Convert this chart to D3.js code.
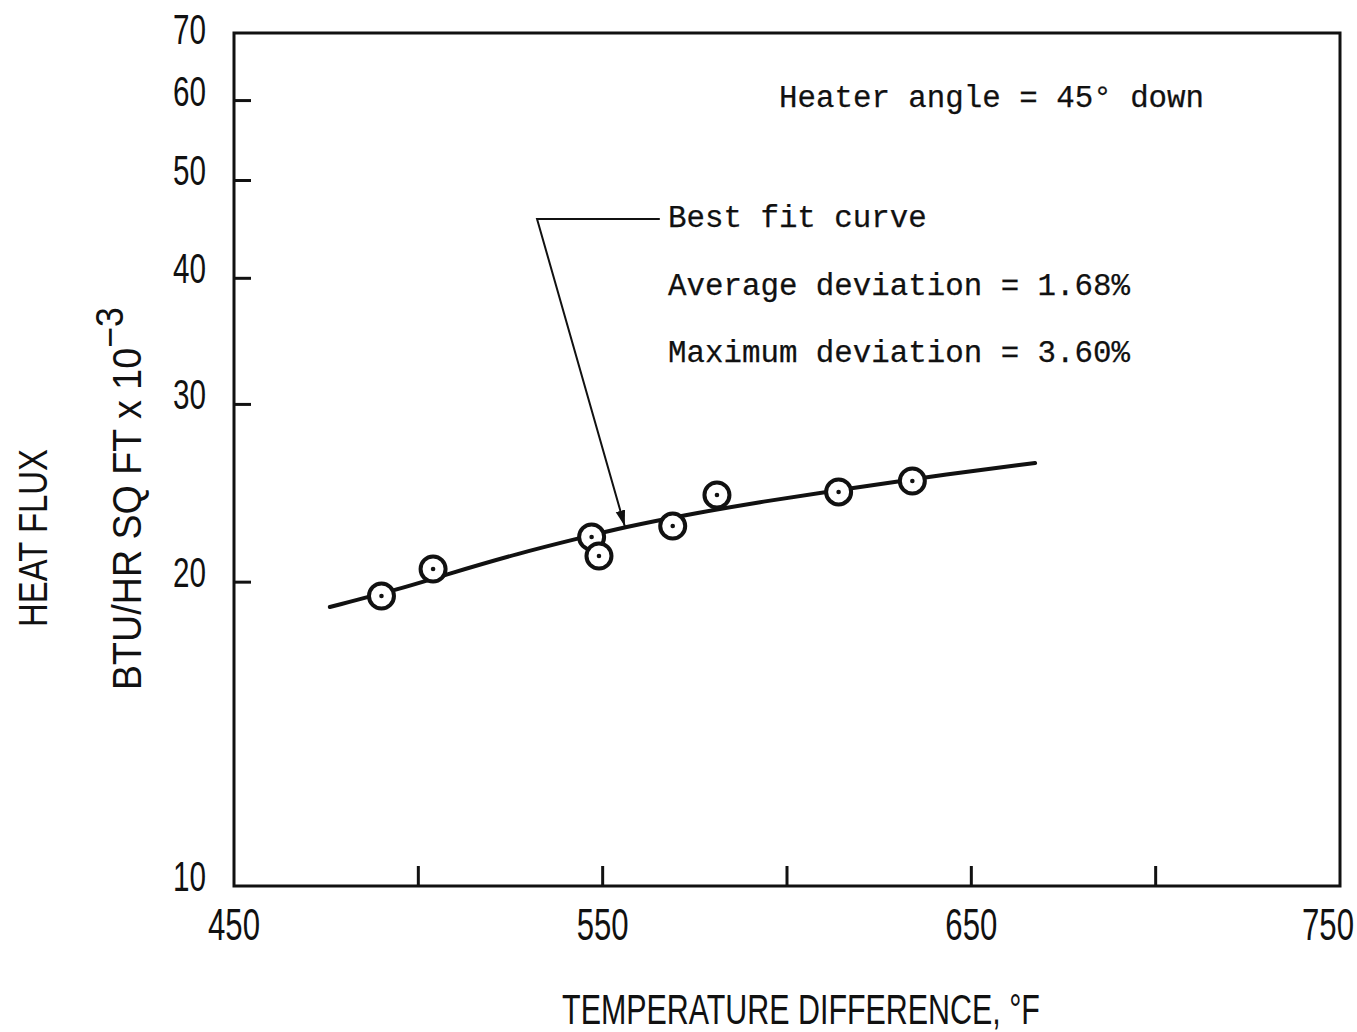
<!DOCTYPE html>
<html>
<head>
<meta charset="utf-8">
<script src="https://cdn.jsdelivr.net/npm/d3@7"></script>
<style>
  html, body { margin: 0; padding: 0; background: #fff; }
  svg { display: block; }
</style>
</head>
<body>
<div id="chart"></div>
<script>
// measured points (temperature difference °F, heat flux x 10^-3)
const pointTemp = [490, 504, 547, 549, 569, 581, 614, 634];
const pointFlux = [19.38, 20.61, 22.17, 21.23, 22.73, 24.40, 24.57, 25.19];

// best fit curve
const curveTemp = [476.0, 495.0, 507.2, 527.6, 543.9, 556.1, 571.0, 592.7, 614.4, 638.0, 667.3];
const curveFlux = [18.90, 19.69, 20.33, 21.38, 22.12, 22.68, 23.26, 24.02, 24.69, 25.43, 26.25];

const xTicks = [500, 550, 600, 650, 700];
const xTickLabels = [450, 550, 650, 750];
const yTicks = [20, 30, 40, 50, 60];
const yTickLabels = [10, 20, 30, 40, 50, 60, 70];

const notes = [
  "Heater angle = 45° down",
  "Best fit curve",
  "Average deviation = 1.68%",
  "Maximum deviation = 3.60%"
];

const width = 1357, height = 1032;
const plotLeft = 234, plotRight = 1340, plotTop = 33, plotBottom = 886;

const svg = d3.select("#chart").append("svg")
  .attr("width", width)
  .attr("height", height);

const x = d3.scaleLinear().domain([450, 750]).range([plotLeft, plotRight]);
const y = d3.scaleLog().domain([10, 70]).range([plotBottom, plotTop]);

const ink = "#111";
const letterFont = "'Liberation Sans Narrow', 'Liberation Sans', sans-serif";

// squeeze lettering to the width it has in the picture
function fit(sel, w) {
  sel.each(function () {
    const t = d3.select(this);
    const l = this.getComputedTextLength();
    t.attr("transform", t.attr("transform") + ` scale(${w / l},1)`);
  });
}

// frame
svg.append("rect")
  .attr("x", plotLeft).attr("y", plotTop)
  .attr("width", plotRight - plotLeft).attr("height", plotBottom - plotTop)
  .attr("fill", "none").attr("stroke", ink).attr("stroke-width", 3);

// inward ticks
svg.append("g").selectAll("line")
  .data(xTicks)
  .join("line")
  .attr("x1", d => x(d)).attr("x2", d => x(d))
  .attr("y1", plotBottom).attr("y2", plotBottom - 20)
  .attr("stroke", ink).attr("stroke-width", 3);

svg.append("g").selectAll("line")
  .data(yTicks)
  .join("line")
  .attr("x1", plotLeft).attr("x2", plotLeft + 17)
  .attr("y1", d => y(d)).attr("y2", d => y(d))
  .attr("stroke", ink).attr("stroke-width", 3);

// tick labels
svg.append("g").selectAll("text")
  .data(xTickLabels)
  .join("text")
  .attr("transform", d => `translate(${Math.min(x(d), width - 29)},940)`)
  .attr("text-anchor", "middle")
  .attr("font-family", letterFont)
  .attr("font-size", 44)
  .attr("fill", ink)
  .text(d => d)
  .call(fit, 52);

svg.append("g").selectAll("text")
  .data(yTickLabels)
  .join("text")
  .attr("transform", d => `translate(206,${Math.max(y(d) + 5, 44)})`)
  .attr("text-anchor", "end")
  .attr("font-family", letterFont)
  .attr("font-size", 43)
  .attr("fill", ink)
  .text(d => d)
  .call(fit, 33);

// axis titles
svg.append("text")
  .attr("transform", "translate(801,1024)")
  .attr("text-anchor", "middle")
  .attr("font-family", letterFont)
  .attr("font-size", 43)
  .attr("fill", ink)
  .text("TEMPERATURE DIFFERENCE, °F")
  .call(fit, 478);

svg.append("text")
  .attr("transform", "translate(47,538) rotate(-90)")
  .attr("text-anchor", "middle")
  .attr("font-family", letterFont)
  .attr("font-size", 40)
  .attr("fill", ink)
  .text("HEAT FLUX")
  .call(fit, 178);

const unit = svg.append("text")
  .attr("transform", "translate(141,690) rotate(-90)")
  .attr("text-anchor", "start")
  .attr("font-family", letterFont)
  .attr("font-size", 40)
  .attr("fill", ink);
unit.append("tspan").text("BTU/HR SQ FT x 10");
unit.append("tspan").attr("dy", -18).attr("font-size", 38).text("−3");
unit.call(fit, 383);

// best fit curve
const curve = curveTemp.map((t, i) => [t, curveFlux[i]]);
svg.append("path")
  .datum(curve)
  .attr("fill", "none")
  .attr("stroke", ink)
  .attr("stroke-width", 4)
  .attr("stroke-linecap", "round")
  .attr("d", d3.line().x(d => x(d[0])).y(d => y(d[1])).curve(d3.curveBasis));

// data points: open circle with centre dot
const pts = svg.append("g").selectAll("g")
  .data(pointTemp.map((t, i) => [t, pointFlux[i]]))
  .join("g")
  .attr("transform", d => `translate(${x(d[0])},${y(d[1])})`);
pts.append("circle")
  .attr("r", 12.5)
  .attr("fill", "#fff")
  .attr("stroke", ink)
  .attr("stroke-width", 4);
pts.append("circle")
  .attr("r", 2.3)
  .attr("fill", ink);

// annotation arrow to the curve
const arrowCorner = [532.2, 45.8];
const arrowEnd = [565.5, 45.8];
const arrowTip = [556.0, 22.72];

svg.append("defs").append("marker")
  .attr("id", "head")
  .attr("viewBox", "0 0 10 10")
  .attr("refX", 10).attr("refY", 5)
  .attr("markerWidth", 16).attr("markerHeight", 16)
  .attr("markerUnits", "userSpaceOnUse")
  .attr("orient", "auto")
  .append("path")
  .attr("d", "M0,2 L10,5 L0,8 Z")
  .attr("fill", ink);

svg.append("polyline")
  .attr("points", [arrowEnd, arrowCorner, arrowTip].map(p => `${x(p[0])},${y(p[1])}`).join(" "))
  .attr("fill", "none")
  .attr("stroke", ink)
  .attr("stroke-width", 2)
  .attr("marker-end", "url(#head)");

// typed notes
const notePos = [[779, 107], [668, 227], [668, 295], [668, 362]];
svg.append("g").selectAll("text")
  .data(notes)
  .join("text")
  .attr("x", (d, i) => notePos[i][0])
  .attr("y", (d, i) => notePos[i][1])
  .attr("font-family", "'Liberation Mono', 'Courier New', monospace")
  .attr("font-size", 30.8)
  .attr("fill", ink)
  .attr("stroke", ink)
  .attr("stroke-width", 0.25)
  .text(d => d);
</script>
</body>
</html>
